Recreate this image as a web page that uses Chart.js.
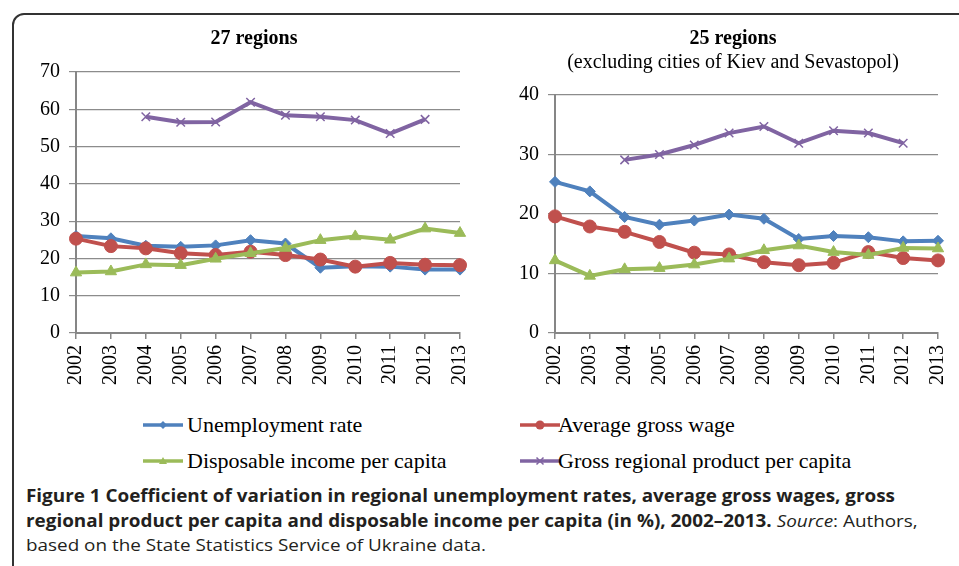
<!DOCTYPE html>
<html>
<head>
<meta charset="utf-8">
<script src="https://cdn.jsdelivr.net/npm/chart.js@4.4.0/dist/chart.umd.min.js"></script>
<style>
  html, body { margin:0; padding:0; background:#fff; width:959px; height:566px; overflow:hidden; }
  #frame { position:absolute; left:12px; top:13px; width:1000px; height:600px; border:2px solid #333; border-radius:12px; box-sizing:border-box; }
  #c1 { position:absolute; left:0; top:0; }
  #c2 { position:absolute; left:480px; top:0; }
  .leg { position:absolute; font-family:"Liberation Serif","Times New Roman",serif; font-size:22px; color:#000; white-space:nowrap; line-height:24px; }
  .leg svg { position:absolute; left:0; top:2px; }
  .leg span { position:absolute; top:0; }
  #caption { position:absolute; left:26px; top:484px; font-family:"Open Sans",sans-serif; font-size:17px; line-height:24.5px; color:#231f20; white-space:nowrap; }
  #caption b { font-weight:700; }
  #caption .l { display:block; transform-origin:0 50%; width:max-content; }
</style>
</head>
<body>
<div id="frame"></div>
<canvas id="c1" width="490" height="400"></canvas>
<canvas id="c2" width="488" height="400"></canvas>
<div id="legend"></div>
<div id="caption">
  <span class="l" id="cap1"><b>Figure 1 Coefficient of variation in regional unemployment rates, average gross wages, gross</b></span>
  <span class="l" id="cap2"><b>regional product per capita and disposable income per capita (in %), 2002–2013.</b> <i>Source</i>: Authors,</span>
  <span class="l" id="cap3">based on the State Statistics Service of Ukraine data.</span>
</div>
<script>
// ---- data ----
const years = ['2002','2003','2004','2005','2006','2007','2008','2009','2010','2011','2012','2013'];
const seriesNames = ['Unemployment rate','Average gross wage','Disposable income per capita','Gross regional product per capita'];

// 27 regions
const unemp27  = [26.0,25.4,23.4,23.1,23.5,24.9,24.0,17.5,17.9,17.8,17.0,17.0];
const wage27   = [25.3,23.3,22.7,21.4,20.9,21.8,20.9,19.7,17.8,18.8,18.3,18.2];
const income27 = [16.2,16.5,18.4,18.2,19.9,21.4,22.8,24.9,25.9,25.0,28.0,26.8];
const grp27    = [null,null,58.0,56.5,56.6,61.9,58.4,58.0,57.1,53.5,57.3,null];

// 25 regions (excluding Kiev and Sevastopol)
const unemp25  = [25.4,23.8,19.5,18.2,18.9,19.9,19.2,15.8,16.3,16.1,15.4,15.5];
const wage25   = [19.6,17.9,17.0,15.3,13.5,13.2,11.9,11.4,11.8,13.6,12.6,12.2];
const income25 = [12.2,9.6,10.7,10.9,11.5,12.5,13.9,14.7,13.6,13.1,14.3,14.2];
const grp25    = [null,null,29.1,30.0,31.6,33.6,34.7,31.9,34.0,33.6,31.9,null];

const ticks27 = {min:0, max:70, step:10};
const ticks25 = {min:0, max:40, step:10};

// ---- styles ----
const colors = ['#4F81BD','#C0504D','#9BBB59','#8064A2'];
const pStyles = ['rectRot','circle','triangle','crossRot'];
const pRadius = [5.5,6.5,6.5,6];
const orders = [4,3,2,1];

function makeDatasets(arrs){
  return arrs.map((d,i)=>({
    label: seriesNames[i],
    data: d,
    borderColor: colors[i],
    backgroundColor: colors[i],
    borderWidth: 4,
    pointStyle: pStyles[i],
    pointRadius: pRadius[i],
    pointBorderWidth: i===3 ? 1.5 : 1,
    pointBorderColor: colors[i],
    pointBackgroundColor: colors[i],
    tension: 0,
    spanGaps: false,
    order: orders[i]
  }));
}

const serif = '"Liberation Serif","Times New Roman",serif';

function makeChart(id, datasets, tk, titleText, subText, yW, padLeft, padRight){
  const titleTop = 27;
  const plugins = {
    legend:{display:false},
    tooltip:{enabled:false},
    title:{display:true, text:titleText, color:'#000', font:{family:serif, size:20, weight:'bold', lineHeight:1.2},
           padding:{top:titleTop, bottom: subText ? 0 : 21}},
  };
  if (subText) {
    plugins.subtitle = {display:true, text:subText, color:'#000', font:{family:serif, size:20, weight:'normal', lineHeight:1.2},
                        padding:{top:0, bottom:20}};
  }
  return new Chart(document.getElementById(id), {
    type:'line',
    data:{labels:years, datasets},
    options:{
      responsive:false,
      animation:false,
      devicePixelRatio:1,
      layout:{padding:{left:padLeft, right:padRight, top:0, bottom:0}},
      plugins,
      scales:{
        x:{
          offset:false,
          grid:{display:true, drawOnChartArea:false, drawTicks:true, tickLength:6, color:'#868686', lineWidth:1.5},
          border:{display:true, color:'#868686', width:2},
          ticks:{color:'#000', font:{family:serif, size:20}, minRotation:90, maxRotation:90, padding:6, autoSkip:false},
          afterFit:(s)=>{ s.height = 67; }
        },
        y:{
          min:tk.min, max:tk.max,
          grid:{color:'#8c8c8c', lineWidth:1.2, drawTicks:true, tickLength:7},
          border:{display:true, color:'#868686', width:2},
          ticks:{stepSize:tk.step, color:'#000', font:{family:serif, size:20}, padding:9},
          afterFit:(s)=>{ s.width = yW; }
        }
      }
    }
  });
}

makeChart('c1', makeDatasets([unemp27,wage27,income27,grp27]), ticks27, '27 regions', null, 39, 37, 19);
makeChart('c2', makeDatasets([unemp25,wage25,income25,grp25]), ticks25, '25 regions', '(excluding cities of Kiev and Sevastopol)', 36, 39, 21);

// ---- legend ----
const legPos = [[143,413],[520,413],[143,449],[520,449]];
const legend = document.getElementById('legend');
function markerSvg(i){
  const c = colors[i];
  let m = '';
  if (i===0) m = `<polygon points="20,6 24,10 20,14 16,10" fill="${c}"/>`;
  if (i===1) m = `<circle cx="20" cy="10" r="4.5" fill="${c}"/>`;
  if (i===2) m = `<polygon points="20,6 24,13 16,13" fill="${c}"/>`;
  if (i===3) m = `<path d="M16.5 6.5 L23.5 13.5 M23.5 6.5 L16.5 13.5" stroke="${c}" stroke-width="1.5"/>`;
  return `<svg width="40" height="20"><line x1="0" y1="10" x2="40" y2="10" stroke="${c}" stroke-width="3.5"/>${m}</svg>`;
}
seriesNames.forEach((n,i)=>{
  const d = document.createElement('div');
  d.className='leg';
  d.style.left = legPos[i][0]+'px';
  d.style.top = legPos[i][1]+'px';
  d.innerHTML = markerSvg(i) + `<span style="left:${i%2===0?44:38}px">${n}</span>`;
  legend.appendChild(d);
});

// ---- caption width fit (reference uses a condensed face) ----
const cap1 = document.getElementById('cap1');
const w1 = cap1.getBoundingClientRect().width;
const sx = 869 / w1;
['cap1','cap2','cap3'].forEach(id=>{ document.getElementById(id).style.transform = `scaleX(${sx})`; });
</script>
</body>
</html>
